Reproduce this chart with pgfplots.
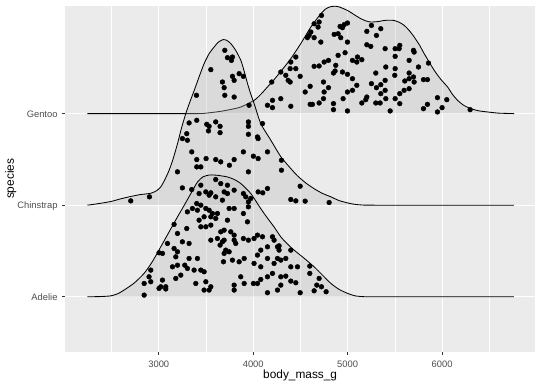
\documentclass[border=0pt]{standalone}
\usepackage{fontspec}
\setmainfont{Liberation Sans}
\usepackage{pgfplots}
\pgfplotsset{compat=1.18}
\usepackage{pgfplotstable}
\definecolor{panelbg}{HTML}{EBEBEB}
\definecolor{ticktxt}{HTML}{4D4D4D}
\definecolor{tickcol}{HTML}{333333}
\definecolor{ridgefill}{HTML}{B3B3B3}

\pgfplotstableread{
x y
2245 1.0
2380 1.002
2492 1.01
2570 1.035
2632 1.073
2740 1.15
2844 1.255
2930 1.38
3021 1.545
3110 1.71
3198 1.872
3270 2.0
3339 2.126
3410 2.253
3470 2.31
3540 2.33
3622 2.326
3728 2.308
3800 2.28
3869 2.236
3975 2.126
4080 1.962
4150 1.86
4221 1.762
4292 1.654
4363 1.575
4433 1.509
4540 1.42
4645 1.327
4730 1.24
4822 1.146
4910 1.08
4999 1.037
5070 1.012
5140 1.003
5300 1.0
6760 1.0
}\adeliecurve

\pgfplotstableread{
x y
2245 2.0
2380 2.02
2492 2.04
2600 2.07
2703 2.095
2800 2.115
2915 2.13
2980 2.16
3021 2.2
3060 2.27
3109 2.38
3150 2.5
3198 2.67
3240 2.84
3286 3.0
3330 3.13
3374 3.25
3430 3.41
3480 3.545
3530 3.65
3586 3.727
3630 3.78
3681 3.808
3720 3.80
3763 3.764
3815 3.69
3869 3.581
3905 3.46
3940 3.327
3975 3.21
4010 3.109
4080 2.891
4186 2.71
4292 2.53
4398 2.40
4469 2.32
4560 2.24
4645 2.18
4730 2.13
4822 2.091
4910 2.05
4999 2.025
5070 2.01
5140 2.003
5300 2.0
6760 2.0
}\chinstrapcurve

\pgfplotstableread{
x y
2245 3.0
3374 3.0
3500 3.005
3657 3.025
3760 3.045
3869 3.072
4010 3.145
4080 3.21
4151 3.291
4220 3.37
4292 3.46
4398 3.60
4504 3.765
4610 3.945
4716 4.09
4770 4.145
4822 4.168
4870 4.172
4910 4.165
4999 4.126
5070 4.08
5140 4.036
5200 4.01
5246 4.0
5320 4.005
5387 4.017
5440 4.02
5493 4.017
5550 3.995
5599 3.963
5650 3.91
5705 3.836
5760 3.75
5811 3.654
5917 3.472
5990 3.37
6058 3.291
6110 3.21
6164 3.145
6230 3.09
6305 3.054
6390 3.03
6482 3.018
6600 3.005
6764 3.0
}\gentoocurve

\pgfplotstableread{
x y
3956 3.091
4151 3.091
4204 3.065
4204 3.145
4196 3.345
4292 3.454
4292 3.163
4345 3.418
4391 3.491
4451 3.491
4398 3.563
4451 3.618
4370 3.363
4391 3.345
4497 3.407
4398 3.080
4550 3.236
4603 3.298
4797 3.283
4744 3.345
4751 3.236
4744 3.163
4698 3.116
4603 3.101
4627 3.101
4850 3.109
4850 3.043
4998 3.029
4952 3.163
4998 3.236
5051 3.254
5097 3.309
5051 3.381
4998 3.429
4945 3.454
4867 3.465
4850 3.443
4874 3.527
4899 3.636
4973 3.665
4797 3.581
4751 3.563
4698 3.520
4645 3.516
4716 3.781
4645 3.829
4574 3.829
4592 3.854
4610 3.891
4645 3.981
4698 4.000
4723 4.072
4687 3.945
4857 3.865
4899 3.872
4927 3.829
4920 3.952
4963 3.971
4998 3.989
4945 3.938
4998 3.781
5051 3.581
5104 3.618
5150 3.589
5097 3.563
5150 3.116
5192 3.152
5203 3.181
5298 3.116
5344 3.116
5404 3.163
5351 3.218
5450 3.029
5503 3.163
5552 3.109
5397 3.254
5397 3.363
5351 3.316
5252 3.327
5298 3.443
5305 3.283
5404 3.509
5503 3.491
5499 3.418
5605 3.356
5651 3.381
5697 3.400
5704 3.345
5651 3.443
5750 3.509
5803 3.371
5845 3.371
5856 3.552
5651 3.581
5697 3.691
5704 3.672
5552 3.745
5545 3.709
5503 3.709
5503 3.625
5397 3.709
5245 3.734
5203 3.752
5203 3.898
5252 3.963
5305 3.854
5351 3.927
5803 3.054
5845 3.101
5951 3.174
6000 3.065
5951 3.018
6050 3.152
6297 3.043
5598 3.254
5651 3.272
5552 3.218
}\gentoopts

\pgfplotstableread{
x y
3349 2.582
3402 2.498
3501 2.509
3603 2.498
3656 2.473
3798 2.498
3896 2.582
4002 2.535
4052 2.509
4151 2.582
3402 2.418
3445 2.418
3748 2.436
3198 2.364
3949 2.364
4299 2.491
4299 2.382
3250 2.189
4052 2.145
4101 2.135
4151 2.182
2703 2.047
2901 2.091
4497 2.207
4398 2.062
4451 2.047
4550 2.044
4804 2.029
3699 3.691
3727 3.611
3780 3.618
3769 3.581
3551 3.480
3780 3.407
3851 3.436
3896 3.407
3798 3.363
3674 3.345
3692 3.283
3699 3.200
3798 3.181
3399 3.200
3321 2.898
3402 2.927
3508 2.883
3533 2.861
3603 2.909
3649 2.861
3526 2.811
3649 2.792
3250 2.727
3303 2.709
3296 2.781
3949 2.909
3949 2.861
3949 2.774
4045 2.745
4052 2.727
4098 2.891
}\chinstrappts

\pgfplotstableread{
x y
3603 2.280
3656 2.236
3727 2.218
3798 2.164
3445 2.218
3349 2.171
3498 2.145
3551 2.135
3427 2.127
3533 2.109
3603 2.091
3692 2.145
3727 2.127
3896 2.127
3921 2.091
3949 2.036
3974 2.073
3674 2.055
3402 2.018
3445 2.000
3356 1.964
3303 1.927
3409 1.945
3498 1.964
3533 1.945
3568 1.909
3621 1.909
3745 1.964
3798 1.964
3896 1.909
3949 1.982
3427 1.836
3480 1.873
3551 1.873
3603 1.855
3727 1.836
3162 1.790
3296 1.745
3445 1.764
3498 1.764
3551 1.782
3692 1.727
3762 1.709
3656 1.709
3939 1.818
4045 1.673
4098 1.655
4009 1.636
3949 1.618
3896 1.636
3798 1.673
3798 1.618
3815 1.582
3692 1.618
3551 1.618
3621 1.636
3709 1.509
3692 1.473
3745 1.491
3198 1.691
3250 1.600
3321 1.582
3092 1.582
3003 1.480
3039 1.473
3162 1.527
3198 1.491
3180 1.436
3321 1.418
3409 1.418
3198 1.345
3275 1.345
3303 1.309
3145 1.327
2915 1.291
2897 1.218
2845 1.145
2915 1.164
3039 1.182
3021 1.109
3074 1.109
3003 1.091
3074 1.085
3180 1.200
3233 1.236
3374 1.291
3445 1.291
3480 1.273
3498 1.164
3551 1.109
3533 1.073
3480 1.073
3392 1.145
2845 1.018
3868 1.218
3904 1.145
3798 1.127
3798 1.073
4002 1.145
4080 1.189
4045 1.145
4151 1.044
4257 1.073
4292 1.127
4151 1.218
4204 1.255
4221 1.364
4292 1.400
4345 1.418
4257 1.418
4274 1.509
4257 1.545
4151 1.545
4080 1.327
4009 1.364
3904 1.418
4151 1.418
4045 1.455
4221 1.618
4274 1.556
3685 1.382
3780 1.400
3851 1.382
4080 1.509
4204 1.655
3649 1.564
3674 1.600
4398 1.509
4398 1.327
4469 1.327
4599 1.335
4292 1.218
4345 1.225
4398 1.171
4451 1.153
4599 1.255
4698 1.200
4673 1.127
4723 1.109
4645 1.065
4772 1.055
4497 1.044
}\adeliepts

\begin{document}
\begin{tikzpicture}
\useasboundingbox (-65.3bp,-34.3bp) rectangle (474.7bp,351.7bp);
\begin{axis}[
  at={(0,0)}, anchor=south west,
  width=469.7bp, height=345.7bp, scale only axis,
  xmin=2010, xmax=6984, ymin=0.4, ymax=4.175,
  axis background/.style={fill=panelbg},
  axis line style={draw=none},
  xtick={3000,4000,5000,6000},
  minor xtick={2500,3500,4500,5500,6500},
  ytick={1,2,3}, yticklabels={Adelie,Chinstrap,Gentoo},
  xmajorgrids, ymajorgrids, xminorgrids,
  major grid style={white, line width=1.1pt},
  minor grid style={white, line width=0.55pt},
  tick align=outside, tick pos=left,
  major tick length=3bp, minor tick length=0pt,
  tick style={tickcol, line width=0.6pt},
  tick label style={font=\fontsize{9.4}{11}\selectfont, text=ticktxt},
  xticklabel style={anchor=north, inner sep=0pt, yshift=-5.6bp},
  yticklabel style={anchor=base east, inner sep=0pt, xshift=-4.6bp, yshift=-3.4bp},
  /pgf/number format/assume math mode=true,
  /pgf/number format/1000 sep={},
  xlabel={body\_mass\_g}, ylabel={species},
  label style={font=\fontsize{11.9}{14}\selectfont, text=black},
  xlabel style={at={(axis description cs:0.5,-0.0686)}, anchor=center, inner sep=0pt},
  ylabel style={at={(axis description cs:-0.1162,0.5)}, anchor=center, inner sep=0pt},
]
\addplot[draw=none, fill=ridgefill, fill opacity=0.3, smooth, tension=0.4] table {\gentoocurve} -- cycle;
\addplot[black, line width=0.85pt, smooth, tension=0.4] table {\gentoocurve};
\addplot[draw=none, fill=ridgefill, fill opacity=0.3, smooth, tension=0.4] table {\chinstrapcurve} -- cycle;
\addplot[black, line width=0.85pt, smooth, tension=0.4] table {\chinstrapcurve};
\addplot[draw=none, fill=ridgefill, fill opacity=0.3, smooth, tension=0.4] table {\adeliecurve} -- cycle;
\addplot[black, line width=0.85pt, smooth, tension=0.4] table {\adeliecurve};
\addplot[only marks, mark=*, mark size=2.4bp, black] table {\gentoopts};
\addplot[only marks, mark=*, mark size=2.4bp, black] table {\chinstrappts};
\addplot[only marks, mark=*, mark size=2.4bp, black] table {\adeliepts};
\end{axis}
\end{tikzpicture}
\end{document}
